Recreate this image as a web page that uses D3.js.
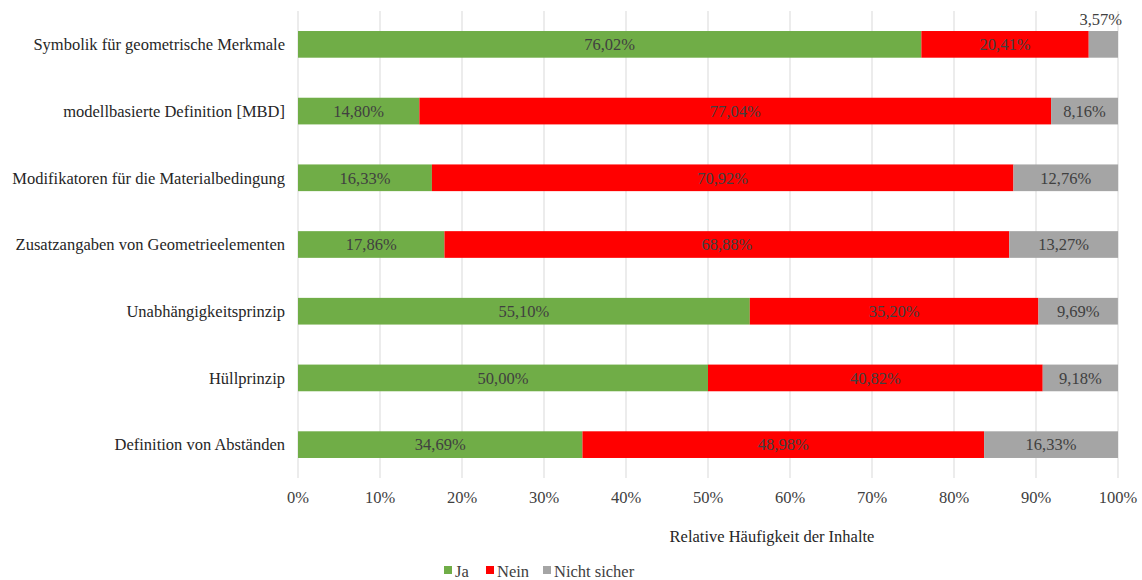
<!DOCTYPE html>
<html><head><meta charset="utf-8">
<script src="https://cdn.jsdelivr.net/npm/d3@7"></script>
<style>body{margin:0;background:#fff}svg{display:block}</style>
</head><body>
<svg id="c" width="1142" height="580" font-family="'Liberation Serif','Times New Roman','DejaVu Serif',serif"></svg>
<script>
const categories = ["Symbolik für geometrische Merkmale","modellbasierte Definition [MBD]","Modifikatoren für die Materialbedingung","Zusatzangaben von Geometrieelementen","Unabhängigkeitsprinzip","Hüllprinzip","Definition von Abständen"];
const ja = [76.02,14.80,16.33,17.86,55.10,50.00,34.69];
const nein = [20.41,77.04,70.92,68.88,35.20,40.82,48.98];
const nichtSicher = [3.57,8.16,12.76,13.27,9.69,9.18,16.33];
const seriesNames = ["Ja","Nein","Nicht sicher"];
const colors = ["#70AD47","#FF0000","#A5A5A5"];
const ticks = [0,10,20,30,40,50,60,70,80,90,100];

const svg = d3.select("#c");
const x = d3.scaleLinear().domain([0,100]).range([298,1118]);
const y = d3.scaleBand().domain(categories).range([11,478]).paddingInner(0.6).paddingOuter(0.3);
const fmt = v => v.toFixed(2).replace(".", ",") + "%";
const FS = 16.5;

svg.append("g").selectAll("line").data(ticks).join("line")
  .attr("x1", d=>x(d)).attr("x2", d=>x(d)).attr("y1", 11).attr("y2", 478)
  .attr("stroke", "#d9d9d9").attr("stroke-width", 1);

const rows = categories.map((c,i)=>({c, vals:[ja[i],nein[i],nichtSicher[i]]}));
const stack = [];
rows.forEach(r=>{ let acc=0; r.vals.forEach((v,k)=>{ stack.push({c:r.c, k, v, x0:acc, x1:acc+v}); acc+=v; }); });

svg.append("g").selectAll("rect").data(stack).join("rect")
  .attr("x", d=>x(d.x0)).attr("width", d=>x(d.x1)-x(d.x0))
  .attr("y", d=>y(d.c)).attr("height", y.bandwidth())
  .attr("fill", d=>colors[d.k]);

svg.append("g").selectAll("text").data(stack).join("text")
  .attr("x", d=> d.v < 5 ? x(d.x1) + 4 : (x(d.x0)+x(d.x1))/2)
  .attr("y", d=> d.v < 5 ? y(d.c) - 6 : y(d.c)+y.bandwidth()/2)
  .attr("dy", d=> d.v < 5 ? "0" : "0.35em")
  .attr("text-anchor", d=> d.v < 5 ? "end" : "middle")
  .attr("font-size", FS).attr("fill", "#404040")
  .text(d=>fmt(d.v));

svg.append("g").selectAll("text").data(categories).join("text")
  .attr("x", 285).attr("y", d=>y(d)+y.bandwidth()/2).attr("dy","0.35em")
  .attr("text-anchor","end").attr("font-size",FS).attr("fill","#262626").text(d=>d);

svg.append("g").selectAll("text").data(ticks).join("text")
  .attr("x", d=>x(d)).attr("y", 503).attr("text-anchor","middle")
  .attr("font-size",FS).attr("fill","#404040").text(d=>d+"%");

svg.append("text").attr("x", 772).attr("y", 542).attr("text-anchor","middle")
  .attr("font-size",FS).attr("fill","#262626").text("Relative Häufigkeit der Inhalte");

const lx = [444, 486, 543];
const lg = svg.append("g").selectAll("g").data(seriesNames).join("g")
  .attr("transform",(d,i)=>`translate(${lx[i]},571)`);
lg.append("rect").attr("x",0).attr("y",-5).attr("width",8).attr("height",8).attr("fill",(d,i)=>colors[i]);
lg.append("text").attr("x",11).attr("y",0).attr("dy","0.35em").attr("font-size",FS).attr("fill","#404040").text(d=>d);
</script>
</body></html>
